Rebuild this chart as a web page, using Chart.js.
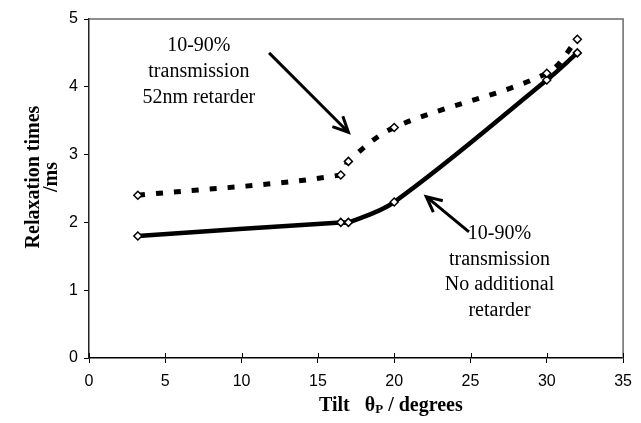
<!DOCTYPE html>
<html>
<head>
<meta charset="utf-8">
<script src="https://cdn.jsdelivr.net/npm/chart.js@4.4.1/dist/chart.umd.min.js"></script>
<style>
  html, body { margin: 0; padding: 0; background: #fff; }
  #wrap { width: 641px; height: 423px; }
</style>
</head>
<body>
<div id="wrap"><canvas id="relaxChart" width="641" height="423"></canvas></div>
<script>
// values
const tiltDeg = [3.2, 16.5, 17, 20, 30, 32];
const relaxNoRetarder = [1.8, 2.0, 2.0, 2.3, 4.1, 4.5];
const relaxRetarder52 = [2.4, 2.7, 2.9, 3.4, 4.2, 4.7];
const xTickValues = [0, 5, 10, 15, 20, 25, 30, 35];
const yTickValues = [0, 1, 2, 3, 4, 5];

const noteRetarder = ['10-90%', 'transmission', '52nm retarder'];
const noteNoRetarder = ['10-90%', 'transmission', 'No additional', 'retarder'];

const toPoints = (xs, ys) => xs.map((x, i) => ({ x: x, y: ys[i] }));

function drawArrow(ctx, x1, y1, x2, y2) {
    const ang = Math.atan2(y2 - y1, x2 - x1);
    const len = 17;
    ctx.beginPath();
    ctx.moveTo(x1, y1);
    ctx.lineTo(x2, y2);
    ctx.moveTo(x2 - len * Math.cos(ang - 0.45), y2 - len * Math.sin(ang - 0.45));
    ctx.lineTo(x2, y2);
    ctx.lineTo(x2 - len * Math.cos(ang + 0.45), y2 - len * Math.sin(ang + 0.45));
    ctx.stroke();
}

const decorations = {
    id: 'decorations',
    beforeDatasetsDraw(chart) {
        const { ctx, chartArea: a } = chart;
        const xs = chart.scales.x;
        ctx.save();
        ctx.strokeStyle = '#6a6a6a';
        ctx.lineWidth = 1.5;
        ctx.beginPath();
        ctx.moveTo(a.left, a.top);
        ctx.lineTo(a.right, a.top);
        ctx.lineTo(a.right, a.bottom);
        ctx.stroke();
        // x ticks also reach a little into the plot
        ctx.strokeStyle = '#000';
        ctx.lineWidth = 1;
        ctx.beginPath();
        xTickValues.forEach(v => {
            const p = Math.round(xs.getPixelForValue(v)) + 0.5;
            ctx.moveTo(p, a.bottom - 5);
            ctx.lineTo(p, a.bottom);
        });
        ctx.stroke();
        ctx.restore();
    },
    afterDatasetsDraw(chart) {
        const { ctx } = chart;
        const xs = chart.scales.x, ys = chart.scales.y;
        const px = v => xs.getPixelForValue(v);
        const py = v => ys.getPixelForValue(v);
        ctx.save();
        ctx.fillStyle = '#000';
        ctx.strokeStyle = '#000';
        ctx.lineWidth = 3;
        ctx.lineCap = 'butt';

        // annotation text
        ctx.font = '20px "Liberation Serif"';
        ctx.textAlign = 'center';
        ctx.textBaseline = 'middle';
        noteRetarder.forEach((t, i) => ctx.fillText(t, px(7.2), 46 + i * 26));
        noteNoRetarder.forEach((t, i) => ctx.fillText(t, px(26.9), 234 + i * 25.5));

        drawArrow(ctx, px(11.8), py(4.5), px(17.0), py(3.33));
        drawArrow(ctx, px(24.9), py(1.86), px(22.1), py(2.38));

        // axis titles
        ctx.font = 'bold 20px "Liberation Serif"';
        ctx.save();
        ctx.translate(34, 177);
        ctx.rotate(-Math.PI / 2);
        ctx.fillText('Relaxation times', 0, 0);
        ctx.restore();
        ctx.save();
        ctx.translate(52, 177);
        ctx.rotate(-Math.PI / 2);
        ctx.fillText('/ms', 0, 0);
        ctx.restore();

        // x title with subscript P
        const parts = ['Tilt   \u03b8', 'P', ' / degrees'];
        const mainFont = 'bold 20px "Liberation Serif"';
        const subFont = 'bold 13px "Liberation Serif"';
        let x = 319;
        const y = 406;
        ctx.textAlign = 'left';
        ctx.font = mainFont;
        ctx.fillText(parts[0], x, y);
        x += ctx.measureText(parts[0]).width;
        ctx.font = subFont;
        ctx.fillText(parts[1], x, y + 4);
        x += ctx.measureText(parts[1]).width;
        ctx.font = mainFont;
        ctx.fillText(parts[2], x, y);
        ctx.restore();
    }
};

new Chart(document.getElementById('relaxChart'), {
    type: 'line',
    data: {
        datasets: [{
            label: '10-90% transmission 52nm retarder',
            data: toPoints(tiltDeg, relaxRetarder52),
            borderColor: '#000',
            borderWidth: 5,
            borderDash: [7, 11],
            borderCapStyle: 'butt',
            tension: 0.35,
            pointStyle: 'rectRot',
            pointRadius: 4,
            pointBorderWidth: 1.5,
            pointBackgroundColor: '#fff',
            pointBorderColor: '#000'
        }, {
            label: '10-90% transmission No additional retarder',
            data: toPoints(tiltDeg, relaxNoRetarder),
            borderColor: '#000',
            borderWidth: 4.5,
            tension: 0.35,
            pointStyle: 'rectRot',
            pointRadius: 4,
            pointBorderWidth: 1.5,
            pointBackgroundColor: '#fff',
            pointBorderColor: '#000'
        }]
    },
    options: {
        responsive: false,
        animation: false,
        devicePixelRatio: 1,
        layout: { padding: { top: 19, right: 14, left: 0, bottom: 0 } },
        plugins: {
            legend: { display: false },
            tooltip: { enabled: false }
        },
        scales: {
            x: {
                type: 'linear',
                min: 0,
                max: 35,
                afterBuildTicks: s => { s.ticks = xTickValues.map(v => ({ value: v })); },
                afterFit: s => { s.height = 65; },
                border: { display: true, color: '#000', width: 1.5 },
                grid: { drawOnChartArea: false, tickLength: 5, color: '#000', lineWidth: 1 },
                ticks: { color: '#000', padding: 9, font: { family: '"Liberation Sans"', size: 16 } }
            },
            y: {
                type: 'linear',
                min: 0,
                max: 5,
                afterBuildTicks: s => { s.ticks = yTickValues.map(v => ({ value: v })); },
                afterFit: s => { s.width = 89; },
                border: { display: true, color: '#222', width: 1.5 },
                grid: { drawOnChartArea: false, tickLength: 5, color: '#000', lineWidth: 1 },
                ticks: { color: '#000', padding: 6, font: { family: '"Liberation Sans"', size: 16 } }
            }
        }
    },
    plugins: [decorations]
});
</script>
</body>
</html>
